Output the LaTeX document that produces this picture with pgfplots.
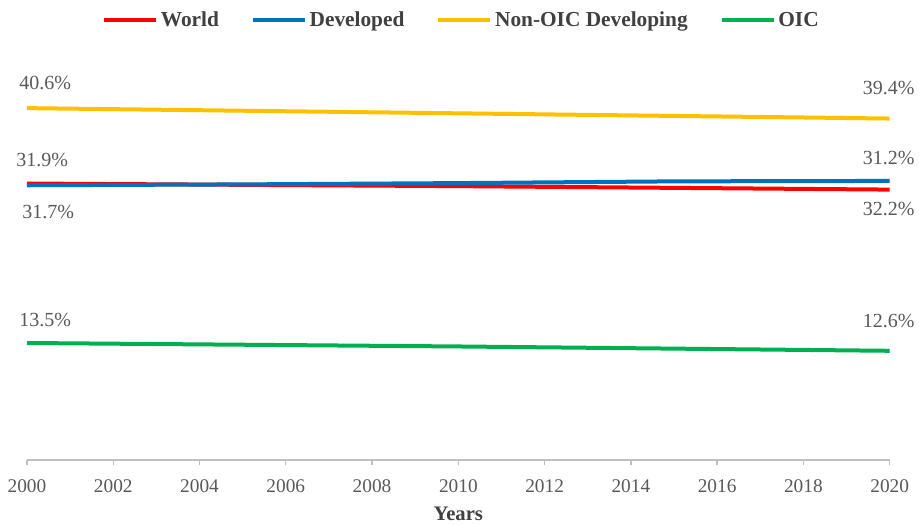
\documentclass[border=0pt]{standalone}
\usepackage{pgfplots}
\pgfplotsset{compat=1.18}
\usepackage{fontspec}
\setmainfont{Liberation Serif}
\definecolor{cRed}{HTML}{FF0000}
\definecolor{cBlue}{HTML}{0070C0}
\definecolor{cYellow}{HTML}{FFC000}
\definecolor{cGreen}{HTML}{00B050}
\definecolor{txt}{HTML}{595959}
\definecolor{legtxt}{HTML}{404040}
\definecolor{axgray}{HTML}{BFBFBF}
\begin{document}
\begin{tikzpicture}
\useasboundingbox (-20.25pt,-48pt) rectangle (669pt,345pt);
\begin{axis}[
  scale only axis,
  width=647pt, height=292.5pt,
  xmin=2000, xmax=2020, ymin=0, ymax=45,
  axis x line=bottom, axis y line=none,
  axis line style={axgray, line width=1pt, -},
  xtick={2000,2002,...,2020},
  xticklabel style={font=\fontsize{14.5}{16}\selectfont, text=txt, yshift=-7.5pt},
  x tick label style={/pgf/number format/.cd, 1000 sep={}, assume math mode=true},
  tick style={axgray, line width=1pt},
  tick align=outside, major tick length=4pt,
  xlabel={\textbf{Years}},
  xlabel style={font=\fontsize{15.5}{17}\selectfont, text=legtxt, yshift=-3.5pt},
  clip=false,
  legend columns=4,
  legend style={draw=none, at={(0.504,1.128)}, anchor=center,
    font=\fontsize{16}{18}\selectfont\bfseries, text=legtxt,
    /tikz/every even column/.append style={column sep=22pt}},
  legend image code/.code={\draw[#1, line width=3pt] (0pt,0pt) -- (39pt,0pt);},
  every axis plot/.append style={line width=3pt},
]
\addplot[cRed] coordinates {(2000,31.9) (2005,31.75) (2010,31.6) (2015,31.4) (2020,31.2)};
\addlegendentry{World}
\addplot[cBlue] coordinates {(2000,31.7) (2005,31.8) (2010,31.95) (2015,32.15) (2020,32.2)};
\addlegendentry{Developed}
\addplot[cYellow] coordinates {(2000,40.6) (2005,40.3) (2010,40.0) (2015,39.7) (2020,39.4)};
\addlegendentry{Non-OIC Developing}
\addplot[cGreen] coordinates {(2000,13.5) (2005,13.3) (2010,13.1) (2015,12.85) (2020,12.6)};
\addlegendentry{OIC}
\begin{scope}[every node/.style={font=\fontsize{15}{17}\selectfont, text=txt}]
\node at (axis cs:2000.42,43.5) {40.6\%};
\node at (axis cs:2000.35,34.6) {31.9\%};
\node at (axis cs:2000.49,28.6) {31.7\%};
\node at (axis cs:2000.42,16.15) {13.5\%};
\node at (axis cs:2019.98,42.9) {39.4\%};
\node at (axis cs:2019.98,34.8) {31.2\%};
\node at (axis cs:2019.98,28.95) {32.2\%};
\node at (axis cs:2019.98,16.0) {12.6\%};
\end{scope}
\end{axis}
\end{tikzpicture}
\end{document}
